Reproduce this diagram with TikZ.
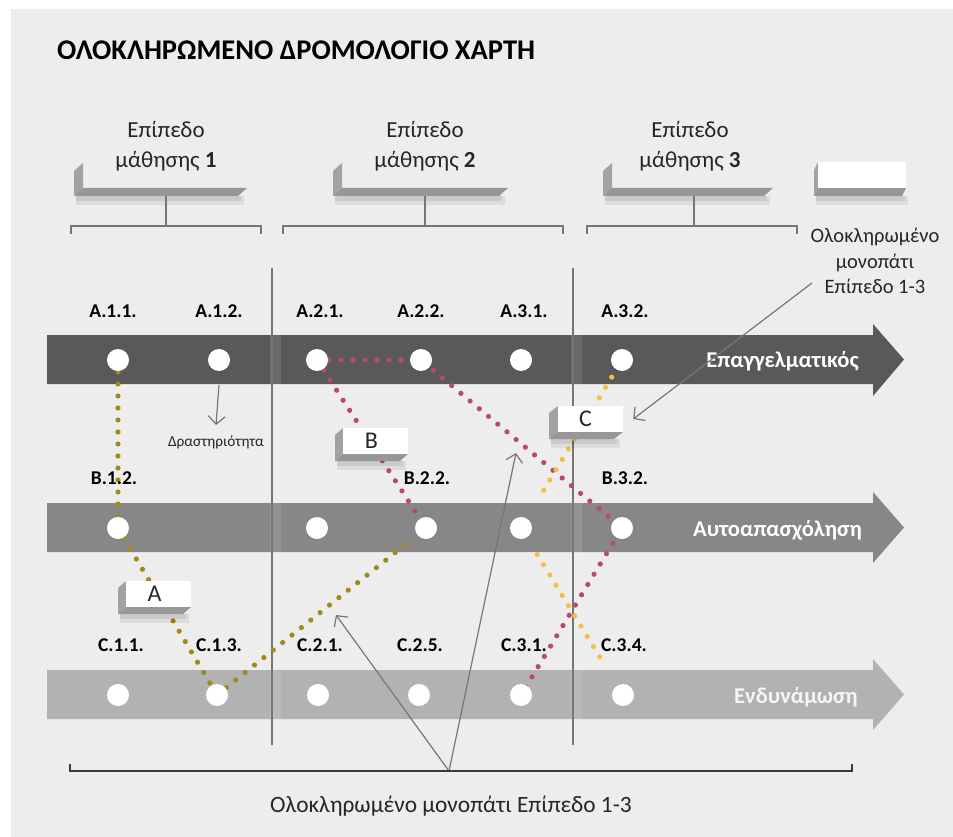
\documentclass[tikz,border=0pt]{standalone}
\usepackage{fontspec}
\setmainfont{Carlito}
\usetikzlibrary{arrows.meta}
\definecolor{bgc}{HTML}{EDEDED}
\definecolor{bandA}{HTML}{595959}
\definecolor{bandB}{HTML}{878787}
\definecolor{bandC}{HTML}{B2B2B2}
\definecolor{olivec}{HTML}{A08A1C}
\definecolor{crimc}{HTML}{B84A6E}
\definecolor{yelc}{HTML}{F5BE45}
\definecolor{lineg}{HTML}{767676}
\definecolor{faceL}{HTML}{A2A2A2}
\definecolor{faceB}{HTML}{979797}
\definecolor{darkbr}{HTML}{3A3A3A}
\newcommand\tdfaces[6]{%
  \fill[black, opacity=0.07] (#1-#5+2,#4+#6) rectangle (#3-#5+6,#4+#6+9);
  \fill[black, opacity=0.08] (#1-#5+2,#4+#6) rectangle (#3-#5+3,#4+#6+5);
  \fill[faceL] (#1,#2) -- (#1-#5,#2+#6) -- (#1-#5,#4+#6) -- (#1,#4) -- cycle;
  \fill[faceB] (#1,#4) -- (#3,#4) -- (#3-#5,#4+#6) -- (#1-#5,#4+#6) -- cycle;
}
\begin{document}
\begin{tikzpicture}[x=1pt,y=-1pt,
  titlef/.style={font=\fontsize{28.5}{32}\selectfont\bfseries, anchor=base west, inner sep=0},
  head/.style={font=\fontsize{23}{26}\selectfont, anchor=base, inner sep=0, text=black!85},
  lab/.style={font=\fontsize{19.5}{22}\selectfont\bfseries, anchor=base, inner sep=0},
  bandtxt/.style={font=\fontsize{22.6}{26}\selectfont\bfseries, anchor=base east, inner sep=0, text=white},
  note/.style={font=\fontsize{20.5}{24}\selectfont, anchor=base, inner sep=0, text=black!85},
  brk/.style={draw=lineg, line width=1.4pt},
  stop/.style={circle, fill=white, minimum size=22pt, inner sep=0},
  dots/.style={line width=5.2pt, line cap=round, dash pattern=on 0pt off 12pt},
  ann/.style={draw=lineg, line width=1.2pt, -{Straight Barb[length=8pt,width=17pt,line width=1.2pt]}},
  frontbox/.style={fill=white, inner sep=0, font=\fontsize{24}{26}\selectfont, text=black!85}
]
\useasboundingbox (0,0) rectangle (953,837);
\fill[white] (0,0) rectangle (953,837);
\fill[bgc] (11,9) rectangle (953,837);

% title
\node[titlef] (title) at (57,60) {ΟΛΟΚΛΗΡΩΜΕΝΟ ΔΡΟΜΟΛΟΓΙΟ ΧΑΡΤΗ};

% level boxes
\tdfaces{83}{163}{247}{188}{9}{8}
\tdfaces{342}{163}{508}{188}{9}{8}
\tdfaces{612}{163}{773}{188}{9}{8}
\tdfaces{818}{162}{906}{188}{4}{8}
\node[fill=white, minimum width=88pt, minimum height=26pt, inner sep=0] (blank) at (862,175) {};

\node[head] (h1a) at (166,138) {Επίπεδο};
\node[head] (h1b) at (166,168) {μάθησης \textbf{1}};
\node[head] (h2a) at (425,138) {Επίπεδο};
\node[head] (h2b) at (425,168) {μάθησης \textbf{2}};
\node[head] (h3a) at (690,138) {Επίπεδο};
\node[head] (h3b) at (690,168) {μάθησης \textbf{3}};

% stems and brackets
\draw[brk] (166,196) -- (166,226);
\draw[brk] (425,196) -- (425,226);
\draw[brk] (694,196) -- (694,226);
\draw[brk] (71,234) -- (71,226) -- (261,226) -- (261,234);
\draw[brk] (283,234) -- (283,226) -- (563,226) -- (563,234);
\draw[brk] (587,234) -- (587,226) -- (797,226) -- (797,234);

% right note
\node[note] (r1) at (875,243) {Ολοκληρωμένο};
\node[note] (r2) at (875,268) {μονοπάτι};
\node[note] (r3) at (875,293) {Επίπεδο 1-3};

% bands
\fill[bandA] (47,335) -- (873,335) -- (873,324) -- (904,359.5) -- (873,396) -- (873,384) -- (47,384) -- cycle;
\fill[bandB] (47,503) -- (873,503) -- (873,492) -- (904,527.5) -- (873,563) -- (873,552) -- (47,552) -- cycle;
\fill[bandC] (47,670) -- (873,670) -- (873,659) -- (904,694.5) -- (873,730) -- (873,719) -- (47,719) -- cycle;

% dividers
\foreach \xx in {272,573} {
  \fill[white, opacity=0.10] (\xx-2,268) rectangle (\xx+9,745);
  \draw[draw=lineg, line width=2pt] (\xx,268) -- (\xx,745);
}

% stop positions
\coordinate (a11) at (118,360); \coordinate (a12) at (219,360);
\coordinate (a21) at (317,360); \coordinate (a22) at (421,360);
\coordinate (a31) at (521,360); \coordinate (a32) at (622,360);
\coordinate (b12) at (118,528); \coordinate (b21) at (317,528);
\coordinate (b22) at (426,528); \coordinate (b31) at (521,528);
\coordinate (b32) at (622,528);
\coordinate (c11) at (118,695); \coordinate (c13) at (217,695);
\coordinate (c21) at (318,695); \coordinate (c25) at (419,695);
\coordinate (c31) at (521,695); \coordinate (c34) at (623,695);

% dotted paths
\draw[dots, olivec] (a11) -- (b12) -- (c13);
\draw[dots, olivec, shorten >=18pt] (c13) -- (b22);
\draw[dots, crimc] (a21) -- (a22) -- (b32) -- (c31);
\draw[dots, crimc, shorten >=18pt] (a21) -- (b22);
\draw[dots, yelc, shorten <=20pt, shorten >=36pt] (a32) -- (b31);
\draw[dots, yelc, shorten <=31pt, shorten >=36pt] (b31) -- (c34);

% stops
\foreach \n in {a11,a12,a21,a22,a31,a32,b12,b21,b22,b31,b32,c11,c13,c21,c25,c31,c34}
  \node[stop] (s\n) at (\n) {};

% labels
\node[lab] (la11) at (113,317) {A.1.1.};
\node[lab] (la12) at (219,317) {A.1.2.};
\node[lab] (la21) at (320,317) {A.2.1.};
\node[lab] (la22) at (421,317) {A.2.2.};
\node[lab] (la31) at (524,317) {A.3.1.};
\node[lab] (la32) at (625,317) {A.3.2.};
\node[lab] (lb12) at (114,484) {B.1.2.};
\node[lab] (lb22) at (427,484) {B.2.2.};
\node[lab] (lb32) at (625,484) {B.3.2.};
\node[lab] (lc11) at (121,651) {C.1.1.};
\node[lab] (lc13) at (219,651) {C.1.3.};
\node[lab] (lc21) at (320,651) {C.2.1.};
\node[lab] (lc25) at (420,651) {C.2.5.};
\node[lab] (lc31) at (524,651) {C.3.1.};
\node[lab] (lc34) at (624,651) {C.3.4.};

% band texts
\node[bandtxt] (tA) at (859,367) {Επαγγελματικός};
\node[bandtxt] (tB) at (862,536) {Αυτοαπασχόληση};
\node[bandtxt, text=white!96!black] (tC) at (858,703) {Ενδυνάμωση};

% activity note
\node[font=\fontsize{15.3}{17}\selectfont, anchor=base, inner sep=0, text=black!85] (act) at (216,446) {Δραστηριότητα};
\coordinate (actfrom) at (219,385);
\draw[ann] (actfrom) -- (216,425);

% letter boxes
\tdfaces{126}{581}{191}{607}{8}{7}
\node[frontbox, minimum width=65pt, minimum height=26pt] (boxA) at (158.5,594) {\makebox[0pt]{\hspace*{-8pt}A}};
\tdfaces{343}{428}{408}{454}{8}{7}
\node[frontbox, minimum width=65pt, minimum height=26pt] (boxB) at (375.5,441) {\makebox[0pt]{\hspace*{-8pt}B}};
\tdfaces{558}{406}{623}{432}{9}{7}
\node[frontbox, minimum width=65pt, minimum height=26pt] (boxC) at (590.5,419) {\makebox[0pt]{\hspace*{-10pt}C}};

% annotation arrows
\coordinate (rfrom) at (812,283);
\draw[ann] (rfrom) -- ([xshift=10pt]boxC.east);
\coordinate (bm) at (449,771);
\draw[ann] (bm) -- (336,615);
\draw[ann] (bm) -- (516,453);

% bottom bracket
\draw[draw=darkbr, line width=1.8pt] (70,764) -- (70,771) -- (852,771) -- (852,764);
\node[font=\fontsize{23.4}{26}\selectfont, anchor=base, inner sep=0, text=black!85] (btxt) at (451,812) {Ολοκληρωμένο μονοπάτι Επίπεδο 1-3};
\end{tikzpicture}
\end{document}
